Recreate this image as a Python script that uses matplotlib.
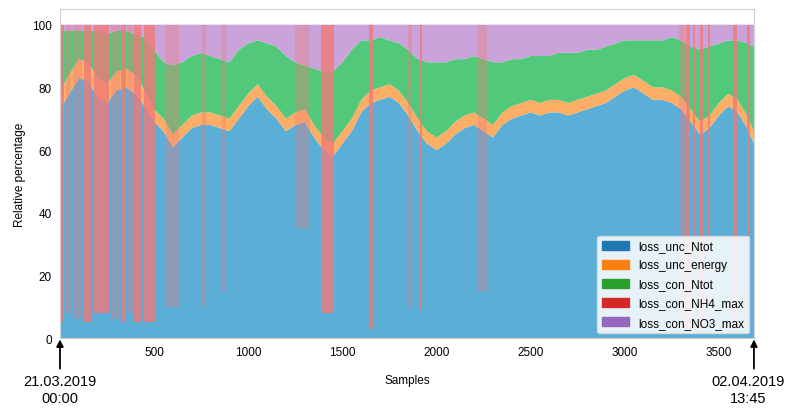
import matplotlib.pyplot as plt
from matplotlib.patches import Patch

# sample positions (every 50 samples)
samples = [0, 50, 100, 150, 200, 250, 300, 350, 400, 450,
           500, 550, 600, 650, 700, 750, 800, 850, 900, 950,
           1000, 1050, 1100, 1150, 1200, 1250, 1300, 1350, 1400, 1450,
           1500, 1550, 1600, 1650, 1700, 1750, 1800, 1850, 1900, 1950,
           2000, 2050, 2100, 2150, 2200, 2250, 2300, 2350, 2400, 2450,
           2500, 2550, 2600, 2650, 2700, 2750, 2800, 2850, 2900, 2950,
           3000, 3050, 3100, 3150, 3200, 3250, 3300, 3350, 3400, 3450,
           3500, 3550, 3600, 3650, 3686]

loss_unc_Ntot = [73, 78, 83, 82, 77, 75, 79, 80, 78, 74,
                 69, 66, 61, 64, 67, 68, 68, 67, 66, 70,
                 74, 77, 73, 70, 66, 68, 69, 64, 60, 58,
                 62, 66, 72, 75, 76, 77, 75, 71, 66, 62,
                 60, 62, 65, 67, 68, 66, 64, 68, 70, 71,
                 72, 71, 72, 72, 71, 72, 73, 74, 75, 77,
                 79, 80, 78, 76, 76, 75, 73, 69, 65, 67,
                 71, 74, 72, 67, 62]

loss_unc_energy = [6, 6, 6, 6, 6, 6, 6, 6, 6, 5,
                   4, 4, 4, 4, 4, 4, 4, 4, 4, 4,
                   4, 4, 4, 4, 4, 4, 4, 4, 4, 4,
                   4, 4, 4, 4, 4, 4, 4, 4, 4, 4,
                   4, 4, 4, 4, 4, 4, 4, 4, 4, 4,
                   4, 4, 4, 4, 4, 4, 4, 4, 4, 4,
                   4, 4, 4, 4, 4, 4, 4, 4, 4, 4,
                   4, 4, 4, 4, 4]

loss_con_Ntot = [19, 14, 9, 10, 15, 16, 13, 12, 13, 17,
                 19, 18, 22, 20, 19, 19, 18, 18, 18, 18,
                 16, 14, 17, 19, 20, 16, 14, 18, 21, 23,
                 22, 22, 19, 16, 16, 14, 15, 17, 19, 22,
                 24, 22, 20, 18, 18, 19, 20, 16, 15, 14,
                 14, 15, 14, 15, 16, 15, 15, 14, 14, 13,
                 12, 11, 13, 15, 15, 17, 18, 20, 23, 22,
                 19, 17, 19, 23, 27]

loss_con_NH4_base = [0] * len(samples)

loss_con_NO3_max = [2, 2, 2, 2, 2, 3, 2, 2, 3, 4,
                    8, 12, 13, 12, 10, 9, 10, 11, 12, 8,
                    6, 5, 6, 7, 10, 12, 13, 14, 15, 15,
                    12, 8, 5, 5, 4, 5, 6, 8, 11, 12,
                    12, 12, 11, 11, 10, 11, 12, 12, 11, 11,
                    10, 10, 10, 9, 9, 9, 8, 8, 7, 6,
                    5, 5, 5, 5, 5, 4, 5, 7, 8, 7,
                    6, 5, 5, 6, 7]

# periods where loss_con_NH4_max dominates: start, end, remaining loss_unc_Ntot share
nh4_start = [4, 128, 181, 323, 394, 447, 1388, 1644, 1910, 3325, 3360, 3400, 3440, 3574, 3650]
nh4_end = [21, 163, 261, 349, 429, 505, 1457, 1660, 1925, 3345, 3375, 3415, 3452, 3595, 3665]
nh4_floor = [5, 5, 8, 5, 5, 5, 8, 3, 9, 2, 3, 3, 5, 2, 3]

# weaker / mixed periods
nh4w_start = [30, 70, 270, 355, 563, 755, 862, 1250, 1850, 2218, 3290]
nh4w_end = [60, 118, 318, 388, 633, 777, 883, 1330, 1870, 2270, 3320]
nh4w_floor = [8, 6, 6, 8, 10, 10, 15, 35, 10, 15, 5]

labels = ['loss_unc_Ntot', 'loss_unc_energy', 'loss_con_Ntot',
          'loss_con_NH4_max', 'loss_con_NO3_max']
fill_colors = ['#5BAED6', '#FDAE66', '#52C97A', '#F07A78', '#C9A3D9']
legend_colors = ['#1f77b4', '#ff7f0e', '#2ca02c', '#d62728', '#9467bd']

plt.rcParams['font.family'] = ['Liberation Sans', 'DejaVu Sans']

fig = plt.figure(figsize=(7.87, 4.10), dpi=100)
ax = fig.add_axes([0.0762, 0.173, 0.8818, 0.8026])

ax.stackplot(samples, loss_unc_Ntot, loss_unc_energy, loss_con_Ntot,
             loss_con_NH4_base, loss_con_NO3_max, colors=fill_colors, lw=0)

for s0, s1, f in zip(nh4w_start, nh4w_end, nh4w_floor):
    ax.bar(s0, 100 - f, width=s1 - s0, bottom=f, align='edge',
           color=fill_colors[3], alpha=0.35, lw=0)
for s0, s1, f in zip(nh4_start, nh4_end, nh4_floor):
    ax.bar(s0, 100 - f, width=s1 - s0, bottom=f, align='edge',
           color=fill_colors[3], alpha=0.8, lw=0)

ax.set_xlim(0, 3686)
ax.set_ylim(0, 105)
ax.set_xticks([500, 1000, 1500, 2000, 2500, 3000, 3500])
ax.set_yticks([0, 20, 40, 60, 80, 100])
ax.tick_params(length=0, labelsize=8.5, pad=6)
for sp in ax.spines.values():
    sp.set_color('#d0d0d0')
ax.set_xlabel('Samples', fontsize=8.5, labelpad=11)
ax.set_ylabel('Relative percentage', fontsize=8.5)

handles = [Patch(color=c, label=l) for c, l in zip(legend_colors, labels)]
ax.legend(handles=handles, loc='lower right', fontsize=8.5, framealpha=0.85,
          handlelength=2.3, handleheight=0.8, labelspacing=0.6,
          borderaxespad=0.4, edgecolor='#dddddd', fancybox=True)

for xv, dx, txt in [(0, 0, '21.03.2019\n00:00'), (3686, -4, '02.04.2019\n13:45')]:
    ax.annotate('', xy=(xv, 0), xytext=(xv, -22), textcoords=('data', 'offset points'),
                xycoords='data', annotation_clip=False,
                arrowprops=dict(arrowstyle='-|>', color='black', lw=1.3,
                                mutation_scale=10, shrinkA=0, shrinkB=1))
    ax.annotate(txt, xy=(xv, 0), xytext=(dx, -26), textcoords='offset points',
                ha='center', va='top', fontsize=10.5, linespacing=1.3,
                annotation_clip=False)

fig.savefig('out.png', dpi=100)
